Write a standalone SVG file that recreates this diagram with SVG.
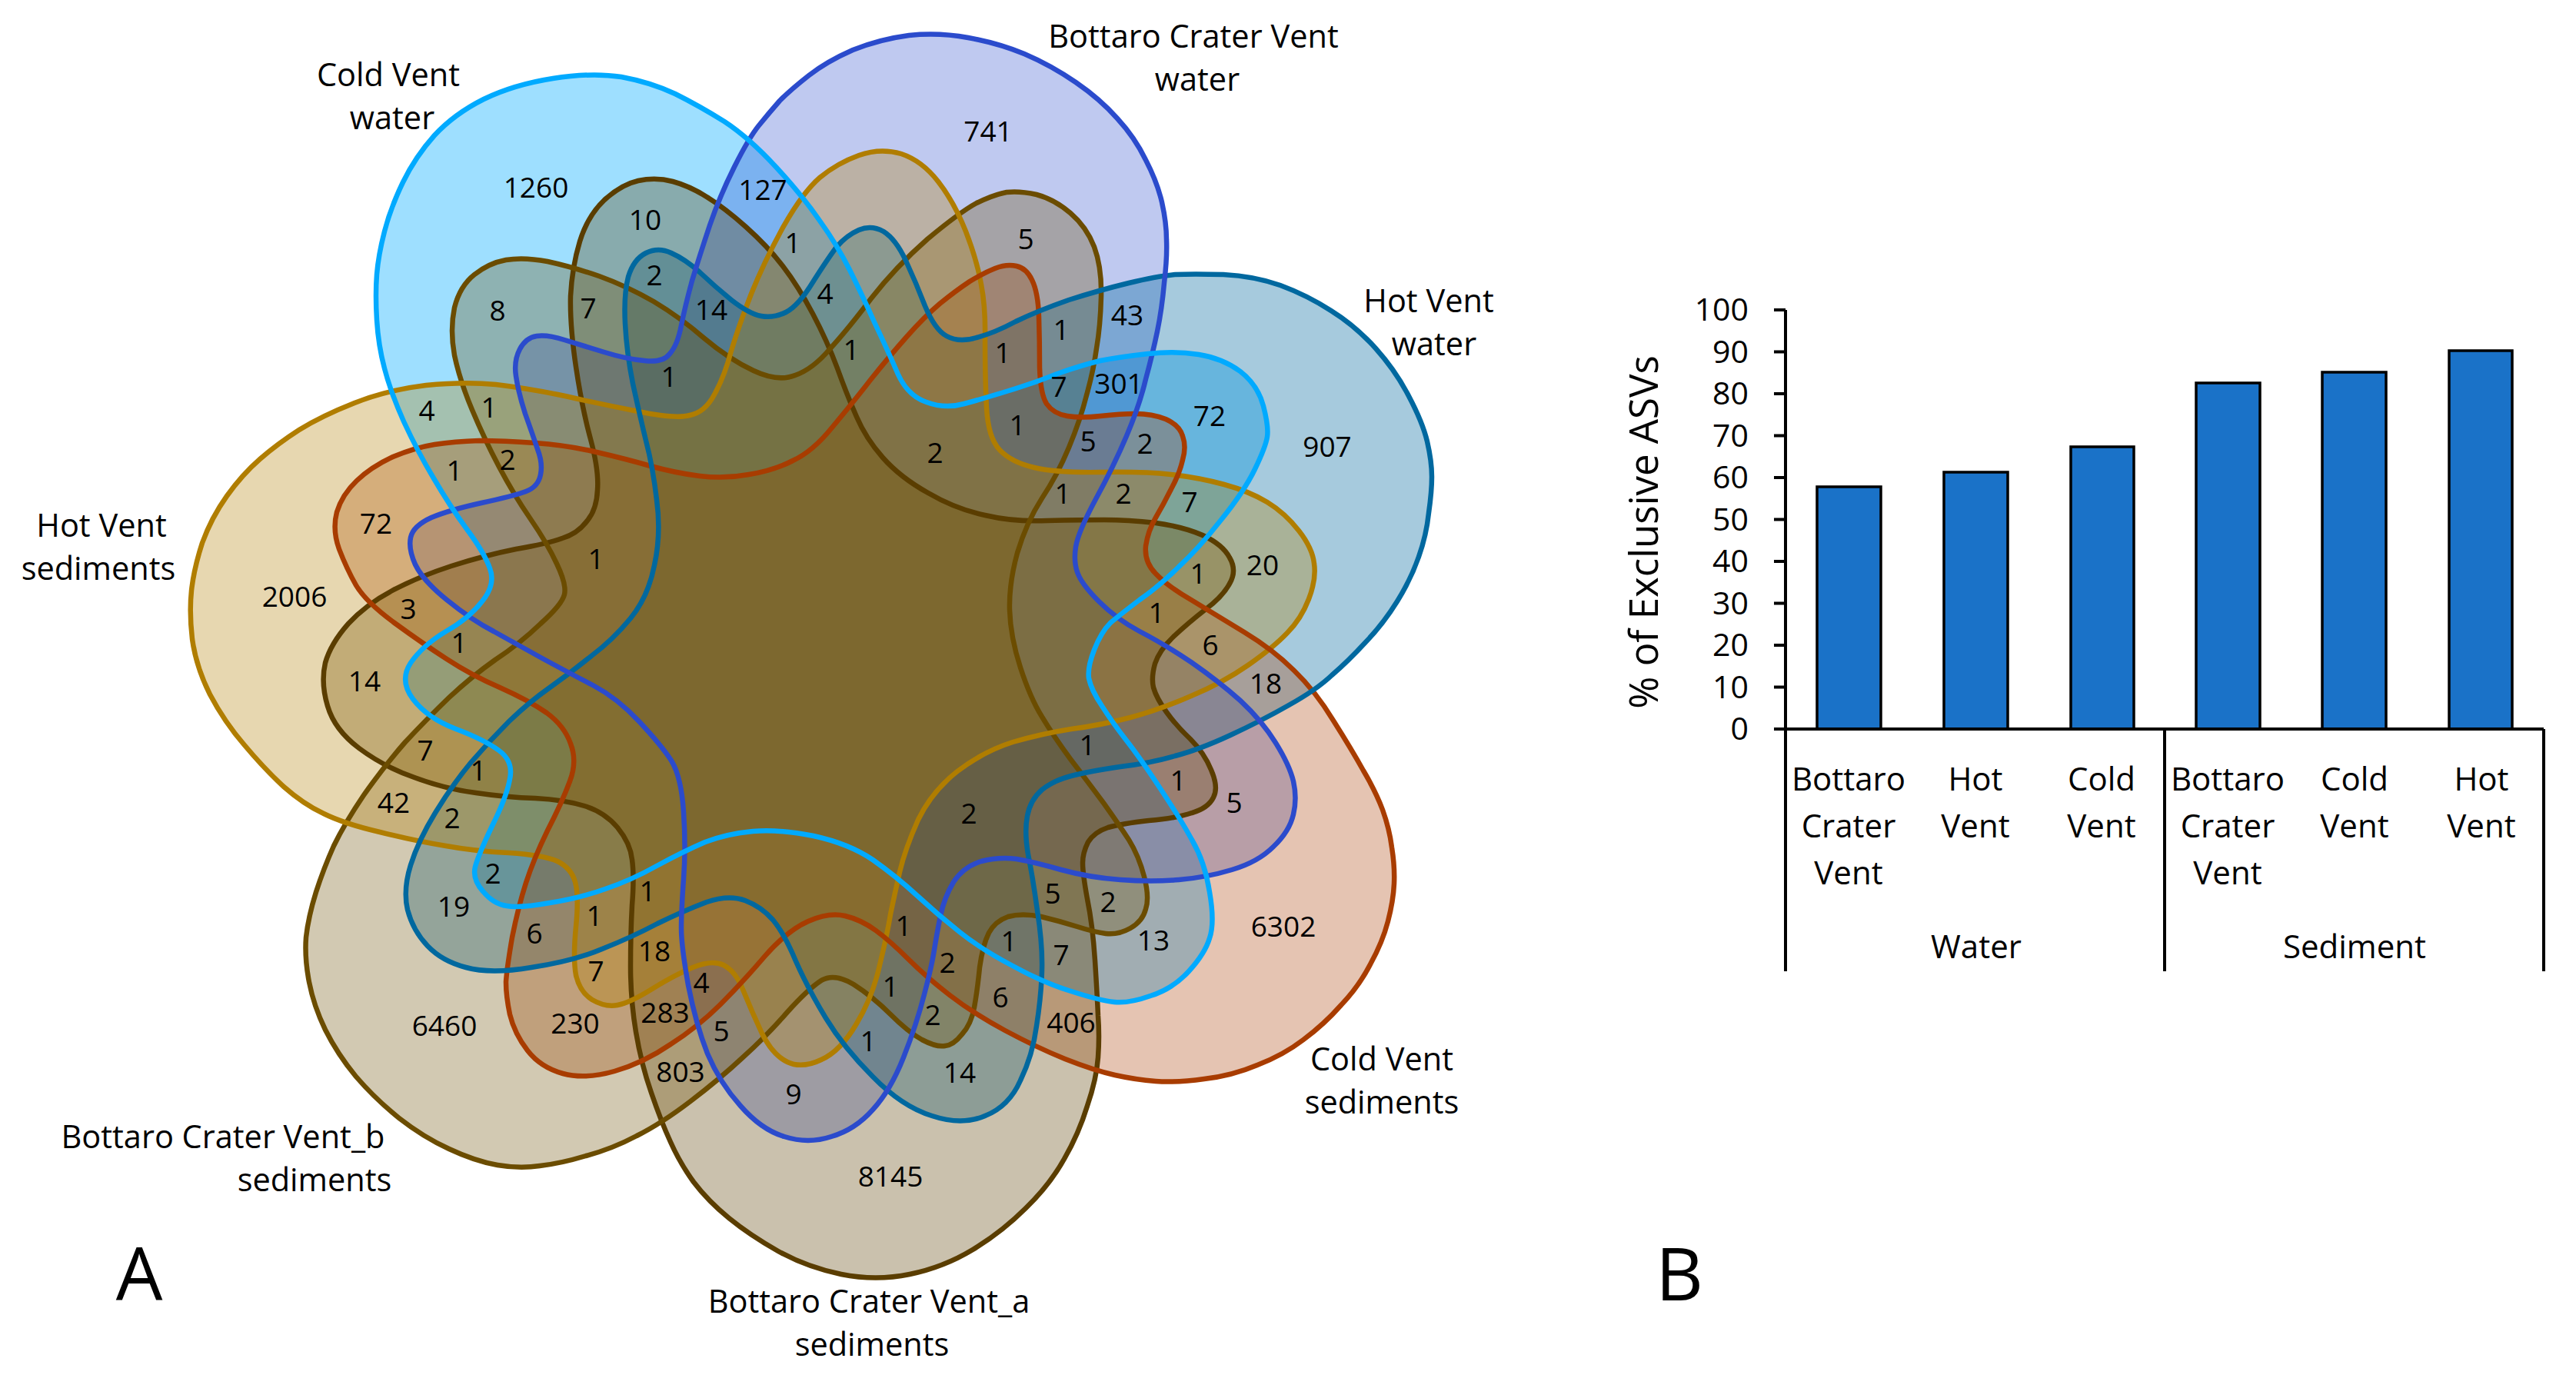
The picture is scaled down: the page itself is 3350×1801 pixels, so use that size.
<svg xmlns="http://www.w3.org/2000/svg" width="3350" height="1801" viewBox="0 0 3350 1801">
<style>
text{font-family:"Open Sans","Noto Sans","Liberation Sans",sans-serif;fill:#000}
.line{stroke-width:6.5;fill:none;stroke-linejoin:round}
.lab{font-size:41.500px;text-anchor:middle}
.n{font-size:37px;text-anchor:middle}
.tick{font-size:41px;text-anchor:end}
.cat{font-size:42px;text-anchor:middle}
.bar{fill:#1a72c8;stroke:#000;stroke-width:3.5}
.ax{stroke:#000;stroke-width:4;fill:none}
.pan{font-size:96px;text-anchor:middle}
</style>
<defs>
<path id="p1" d="M719 102Q770 94 808 100Q846 107 878 122Q910 138 942 158Q974 179 1009 217Q1044 255 1066 287Q1089 319 1105 351Q1121 383 1138 421Q1156 459 1168 487Q1181 515 1205 523Q1229 532 1254 525Q1280 518 1312 508Q1345 498 1375 486Q1406 475 1431 469Q1457 464 1493 460Q1529 456 1559 461Q1590 466 1613 483Q1636 501 1643 528Q1650 555 1648 568Q1646 581 1632 610Q1618 639 1588 676Q1559 713 1533 737Q1508 762 1482 780Q1457 799 1444 810Q1432 822 1423 845Q1414 868 1416 882Q1419 897 1433 918Q1447 940 1465 963Q1483 986 1508 1024Q1534 1063 1550 1092Q1567 1121 1573 1160Q1580 1200 1573 1220Q1567 1240 1546 1263Q1525 1286 1496 1295Q1468 1305 1449 1303Q1430 1301 1393 1289Q1357 1278 1317 1256Q1277 1235 1248 1212Q1219 1189 1192 1164Q1166 1140 1135 1118Q1104 1097 1058 1087Q1013 1078 979 1081Q946 1084 917 1095Q889 1107 854 1126Q820 1145 787 1156Q754 1168 715 1174Q676 1181 659 1178Q642 1176 628 1159Q614 1143 618 1127Q622 1112 640 1074Q659 1036 663 1013Q668 990 649 976Q630 962 593 948Q556 934 537 909Q519 885 534 862Q550 839 580 821Q610 804 627 782Q645 760 637 739Q630 719 607 688Q585 658 564 622Q543 587 525 548Q508 510 500 479Q492 449 490 416Q488 383 490 357Q492 332 500 301Q508 270 524 237Q540 204 565 176Q591 148 629 129Q668 110 719 102Z"/>
<path id="p2" d="M1182 46Q1221 42 1259 49Q1298 56 1332 70Q1367 85 1399 107Q1431 129 1453 154Q1476 179 1490 208Q1505 237 1511 263Q1517 290 1517 312Q1518 335 1514 368Q1511 402 1505 431Q1499 460 1490 493Q1482 527 1465 567Q1448 607 1425 649Q1402 692 1399 711Q1396 730 1401 744Q1406 759 1429 782Q1452 805 1482 821Q1513 837 1549 861Q1585 886 1613 911Q1641 937 1659 966Q1677 995 1682 1016Q1687 1038 1682 1059Q1677 1081 1656 1101Q1636 1121 1602 1131Q1569 1141 1533 1144Q1498 1147 1457 1144Q1416 1141 1380 1131Q1345 1121 1322 1117Q1299 1114 1276 1120Q1253 1127 1240 1147Q1228 1167 1223 1191Q1218 1216 1215 1235Q1212 1255 1202 1293Q1192 1332 1175 1375Q1158 1418 1135 1443Q1112 1469 1081 1478Q1051 1488 1020 1478Q990 1469 963 1438Q936 1408 920 1370Q905 1332 895 1281Q886 1230 886 1207Q886 1184 889 1143Q892 1102 889 1056Q886 1010 873 989Q860 969 831 938Q803 908 771 891Q740 875 705 856Q671 837 642 821Q613 806 581 780Q550 755 540 734Q531 714 534 699Q537 684 561 673Q585 663 626 654Q668 645 684 639Q700 633 703 617Q706 602 699 584Q693 566 683 538Q674 510 671 489Q668 469 676 454Q684 439 698 437Q712 435 734 442Q757 449 786 458Q815 467 838 469Q862 472 871 460Q881 449 886 423Q891 398 900 365Q910 332 923 293Q936 255 955 217Q974 179 987 163Q1000 147 1014 131Q1029 116 1052 98Q1075 80 1109 65Q1144 51 1182 46Z"/>
<path id="p3" d="M1528 357Q1551 356 1591 357Q1631 359 1665 371Q1700 384 1731 404Q1763 424 1789 453Q1815 482 1832 515Q1850 549 1856 574Q1862 600 1862 620Q1862 639 1858 667Q1855 696 1845 724Q1835 753 1817 782Q1799 811 1776 835Q1753 860 1732 878Q1712 897 1676 917Q1641 937 1600 956Q1559 975 1528 983Q1498 992 1457 997Q1416 1003 1393 1009Q1370 1015 1355 1027Q1340 1040 1336 1061Q1332 1082 1337 1111Q1343 1140 1349 1184Q1356 1229 1355 1262Q1354 1296 1348 1334Q1343 1372 1327 1405Q1312 1439 1281 1451Q1251 1464 1212 1451Q1173 1439 1135 1400Q1097 1362 1074 1324Q1051 1286 1035 1250Q1020 1214 1005 1196Q990 1179 969 1171Q948 1163 919 1173Q890 1184 855 1201Q821 1219 783 1234Q745 1250 691 1258Q638 1267 606 1258Q575 1250 556 1230Q537 1210 530 1183Q524 1157 534 1125Q544 1093 566 1057Q588 1021 612 992Q636 964 662 938Q688 913 715 894Q742 875 769 853Q797 832 820 804Q843 776 851 735Q860 694 854 650Q849 607 840 573Q832 540 823 499Q815 459 813 421Q811 383 817 360Q824 337 840 329Q856 321 873 329Q891 337 910 354Q929 372 951 390Q974 408 990 411Q1006 414 1022 406Q1038 398 1057 367Q1076 337 1088 321Q1101 306 1117 299Q1133 292 1149 301Q1165 311 1178 339Q1191 367 1203 398Q1216 429 1231 437Q1247 446 1270 439Q1293 433 1321 418Q1350 404 1390 390Q1431 377 1468 368Q1505 359 1528 357Z"/>
<path id="p4" d="M1810 1102Q1807 1078 1798 1053Q1789 1029 1773 1002Q1758 975 1734 937Q1711 899 1683 872Q1656 845 1618 822Q1580 799 1549 780Q1518 762 1503 746Q1488 731 1490 710Q1493 690 1503 673Q1513 656 1523 636Q1534 616 1538 598Q1543 581 1538 567Q1534 553 1516 545Q1498 538 1477 538Q1457 538 1431 541Q1406 544 1388 541Q1370 538 1361 525Q1353 512 1352 478Q1352 444 1351 412Q1350 380 1342 364Q1335 349 1322 346Q1309 343 1294 349Q1279 355 1261 366Q1243 378 1222 395Q1202 412 1179 438Q1156 464 1132 494Q1108 525 1082 556Q1057 587 1031 599Q1006 612 974 617Q942 623 910 619Q878 615 846 606Q815 597 776 588Q738 579 696 576Q655 573 623 573Q591 574 565 578Q540 582 511 594Q483 607 464 625Q445 643 438 666Q432 689 441 714Q451 740 463 761Q476 783 513 810Q550 837 581 857Q613 878 650 894Q688 911 711 927Q734 944 742 967Q751 990 741 1016Q731 1043 712 1080Q694 1117 684 1148Q674 1179 666 1219Q659 1260 658 1277Q658 1295 663 1319Q669 1344 686 1366Q703 1388 732 1396Q761 1404 799 1393Q837 1382 872 1358Q908 1335 937 1306Q966 1277 995 1243Q1024 1210 1051 1198Q1078 1186 1099 1191Q1120 1196 1139 1210Q1158 1224 1181 1247Q1204 1270 1235 1294Q1266 1318 1307 1340Q1348 1362 1385 1377Q1423 1392 1450 1398Q1477 1404 1503 1406Q1530 1408 1566 1403Q1602 1399 1635 1385Q1669 1372 1695 1352Q1722 1332 1744 1307Q1767 1283 1782 1254Q1798 1225 1805 1198Q1812 1171 1813 1149Q1814 1127 1810 1102Z"/>
<path id="p5" d="M1094 1657Q1139 1666 1183 1657Q1227 1648 1265 1625Q1303 1602 1334 1571Q1365 1541 1384 1507Q1403 1474 1414 1438Q1426 1403 1428 1375Q1430 1347 1428 1321Q1427 1296 1424 1249Q1421 1203 1414 1169Q1408 1136 1408 1122Q1408 1109 1415 1095Q1423 1082 1441 1076Q1459 1071 1494 1067Q1530 1064 1550 1057Q1571 1051 1578 1037Q1585 1024 1575 1001Q1566 979 1548 961Q1530 944 1517 926Q1504 908 1500 894Q1497 881 1502 863Q1508 845 1526 828Q1544 811 1567 793Q1590 776 1599 759Q1609 742 1599 725Q1590 708 1564 696Q1539 685 1503 680Q1467 676 1436 676Q1406 676 1362 677Q1319 679 1281 670Q1243 662 1207 641Q1171 621 1148 595Q1126 570 1114 542Q1102 515 1089 479Q1076 444 1057 408Q1038 372 1018 346Q999 321 970 295Q942 270 919 256Q897 242 875 236Q853 230 830 235Q808 240 786 260Q764 281 754 314Q744 347 742 385Q741 423 749 477Q757 531 768 571Q779 612 777 637Q776 663 763 678Q751 694 731 700Q712 707 671 714Q631 722 587 736Q544 750 510 768Q476 786 453 811Q430 837 423 862Q417 888 426 918Q435 949 467 973Q499 997 539 1011Q579 1026 619 1031Q659 1037 696 1038Q734 1040 760 1048Q786 1056 803 1076Q820 1097 822 1118Q825 1140 822 1177Q820 1214 820 1257Q820 1300 827 1342Q834 1384 847 1421Q860 1459 872 1485Q884 1512 902 1537Q921 1562 948 1584Q975 1606 1012 1627Q1050 1648 1094 1657Z"/>
<path id="p6" d="M702 1516Q676 1520 647 1515Q618 1510 584 1494Q551 1479 519 1454Q488 1429 463 1400Q439 1371 423 1339Q408 1308 402 1277Q396 1246 398 1219Q401 1192 411 1160Q421 1129 434 1100Q448 1071 473 1034Q499 997 527 965Q556 934 584 907Q613 880 644 858Q676 837 703 811Q731 786 734 773Q737 760 724 733Q712 707 690 675Q668 643 649 607Q630 571 614 533Q598 495 591 462Q585 429 591 400Q598 372 617 357Q636 342 658 338Q681 334 712 340Q744 347 779 359Q815 372 850 392Q885 413 916 440Q948 467 980 482Q1012 497 1034 488Q1057 480 1079 454Q1102 429 1133 388Q1165 347 1206 311Q1248 276 1270 264Q1293 253 1309 250Q1326 248 1348 253Q1371 259 1392 277Q1413 295 1423 321Q1433 348 1432 386Q1431 424 1426 453Q1422 482 1413 514Q1405 546 1390 582Q1375 618 1355 648Q1335 679 1323 719Q1312 759 1313 793Q1314 828 1327 868Q1340 908 1355 932Q1370 957 1392 987Q1415 1017 1435 1044Q1455 1072 1468 1092Q1481 1113 1488 1140Q1495 1167 1490 1182Q1486 1198 1470 1207Q1454 1216 1438 1214Q1423 1212 1401 1205Q1379 1198 1354 1192Q1329 1187 1311 1192Q1294 1198 1286 1213Q1278 1229 1274 1258Q1271 1288 1267 1310Q1263 1332 1251 1345Q1240 1359 1229 1360Q1218 1362 1199 1352Q1181 1342 1158 1319Q1135 1296 1110 1280Q1085 1265 1068 1275Q1051 1286 1024 1316Q997 1347 966 1375Q936 1403 898 1432Q860 1461 828 1477Q796 1494 762 1503Q729 1513 702 1516Z"/>
<path id="p7" d="M249 768Q252 740 263 706Q275 673 295 645Q315 617 338 597Q361 577 389 559Q418 541 461 524Q504 507 554 501Q604 496 645 500Q687 505 735 515Q783 526 830 535Q878 545 897 540Q917 536 929 513Q942 490 951 456Q961 423 977 382Q993 342 1018 296Q1044 250 1066 231Q1089 212 1117 202Q1145 192 1172 200Q1199 209 1220 236Q1241 263 1256 301Q1271 340 1276 370Q1282 400 1281 445Q1281 491 1283 530Q1285 569 1300 585Q1315 601 1345 608Q1375 615 1431 614Q1488 613 1523 617Q1559 621 1592 630Q1625 639 1648 653Q1671 667 1689 690Q1707 713 1709 733Q1712 753 1702 779Q1692 805 1674 823Q1656 842 1623 865Q1590 888 1549 905Q1508 923 1470 933Q1432 943 1393 948Q1355 954 1317 965Q1279 977 1245 1003Q1212 1029 1194 1066Q1177 1104 1170 1134Q1163 1165 1158 1189Q1154 1214 1144 1255Q1135 1296 1114 1331Q1093 1367 1068 1378Q1043 1390 1024 1381Q1005 1372 991 1344Q978 1316 967 1289Q957 1263 941 1255Q926 1248 901 1258Q877 1268 848 1286Q819 1304 803 1307Q787 1310 770 1300Q754 1290 749 1268Q745 1246 749 1205Q753 1165 748 1147Q743 1129 725 1120Q707 1112 662 1109Q618 1107 580 1100Q542 1094 494 1082Q447 1071 421 1058Q395 1046 369 1023Q344 1000 318 969Q292 939 273 903Q255 867 250 831Q246 796 249 768Z"/>
</defs>
<rect width="3350" height="1801" fill="#fff"/>
<g id="cold-vent-water"><use href="#p1" fill="#00aaff" fill-opacity=".38"/><text class="lab" x="505" y="112">Cold Vent</text><text class="lab" x="510" y="168">water</text></g>
<g id="bottaro-water"><use href="#p2" fill="#2b4bcc" fill-opacity=".3"/><text class="lab" x="1552" y="62">Bottaro Crater Vent</text><text class="lab" x="1557" y="118">water</text></g>
<g id="hot-vent-water"><use href="#p3" fill="#00689f" fill-opacity=".35"/><text class="lab" x="1858" y="406">Hot Vent</text><text class="lab" x="1865" y="462">water</text></g>
<g id="cold-vent-sediments"><use href="#p4" fill="#a83c00" fill-opacity=".3"/><text class="lab" x="1797" y="1392">Cold Vent</text><text class="lab" x="1797" y="1448">sediments</text></g>
<g id="bottaro-a-sediments"><use href="#p5" fill="#5a3d00" fill-opacity=".32"/><text class="lab" x="1130" y="1707">Bottaro Crater Vent_a</text><text class="lab" x="1134" y="1763">sediments</text></g>
<g id="bottaro-b-sediments"><use href="#p6" fill="#6b4c00" fill-opacity=".3"/><text class="lab" x="290" y="1493">Bottaro Crater Vent_b</text><text class="lab" x="409" y="1549">sediments</text></g>
<g id="hot-vent-sediments"><use href="#p7" fill="#b07d00" fill-opacity=".31"/><text class="lab" x="132" y="698">Hot Vent</text><text class="lab" x="128" y="754">sediments</text></g>
<g id="venn-outlines">
<use href="#p5" class="line" stroke="#5a3d00"/><use href="#p6" class="line" stroke="#6b4c00"/><use href="#p7" class="line" stroke="#b07d00"/><use href="#p4" class="line" stroke="#a83c00"/><use href="#p3" class="line" stroke="#00689f"/><use href="#p2" class="line" stroke="#2b4bcc"/><use href="#p1" class="line" stroke="#00aaff"/>
</g>
<g id="venn-counts">
<text class="n" x="697" y="257">1260</text><text class="n" x="839" y="299">10</text><text class="n" x="992" y="260">127</text><text class="n" x="1285" y="184">741</text><text class="n" x="1031" y="329">1</text><text class="n" x="851" y="371">2</text><text class="n" x="647" y="417">8</text><text class="n" x="765" y="414">7</text><text class="n" x="925" y="416">14</text><text class="n" x="1073" y="395">4</text><text class="n" x="1107" y="468">1</text><text class="n" x="870" y="503">1</text><text class="n" x="555" y="547">4</text><text class="n" x="636" y="543">1</text><text class="n" x="660" y="611">2</text><text class="n" x="591" y="625">1</text><text class="n" x="489" y="694">72</text><text class="n" x="775" y="740">1</text><text class="n" x="1216" y="602">2</text><text class="n" x="1334" y="324">5</text><text class="n" x="1380" y="442">1</text><text class="n" x="1304" y="472">1</text><text class="n" x="1377" y="516">7</text><text class="n" x="1323" y="566">1</text>
<text class="n" x="1466" y="423">43</text><text class="n" x="1455" y="512">301</text><text class="n" x="1573" y="554">72</text><text class="n" x="1726" y="594">907</text><text class="n" x="1415" y="587">5</text><text class="n" x="1489" y="590">2</text><text class="n" x="1382" y="655">1</text><text class="n" x="1461" y="655">2</text><text class="n" x="1547" y="666">7</text><text class="n" x="1642" y="748">20</text><text class="n" x="1558" y="759">1</text><text class="n" x="1504" y="810">1</text><text class="n" x="1574" y="852">6</text><text class="n" x="1646" y="902">18</text><text class="n" x="1414" y="982">1</text><text class="n" x="1532" y="1028">1</text><text class="n" x="1605" y="1057">5</text><text class="n" x="1260" y="1071">2</text><text class="n" x="1369" y="1175">5</text><text class="n" x="1441" y="1186">2</text>
<text class="n" x="1669" y="1218">6302</text><text class="n" x="1500" y="1236">13</text><text class="n" x="1380" y="1255">7</text><text class="n" x="1312" y="1237">1</text><text class="n" x="1301" y="1310">6</text><text class="n" x="1232" y="1265">2</text><text class="n" x="1213" y="1333">2</text><text class="n" x="1393" y="1343">406</text><text class="n" x="1248" y="1408">14</text><text class="n" x="1175" y="1217">1</text><text class="n" x="1158" y="1296">1</text><text class="n" x="1129" y="1367">1</text><text class="n" x="1032" y="1436">9</text><text class="n" x="1158" y="1543">8145</text>
<text class="n" x="512" y="1057">42</text><text class="n" x="588" y="1077">2</text><text class="n" x="641" y="1149">2</text><text class="n" x="590" y="1192">19</text><text class="n" x="695" y="1227">6</text><text class="n" x="773" y="1204">1</text><text class="n" x="842" y="1172">1</text><text class="n" x="775" y="1276">7</text><text class="n" x="851" y="1250">18</text><text class="n" x="912" y="1291">4</text><text class="n" x="865" y="1330">283</text><text class="n" x="938" y="1354">5</text><text class="n" x="748" y="1344">230</text><text class="n" x="885" y="1407">803</text><text class="n" x="578" y="1347">6460</text>
<text class="n" x="383" y="789">2006</text><text class="n" x="531" y="805">3</text><text class="n" x="597" y="849">1</text><text class="n" x="474" y="899">14</text><text class="n" x="553" y="989">7</text><text class="n" x="622" y="1015">1</text>
</g>
<text class="pan" x="181" y="1691">A</text>
<text class="pan" x="2184" y="1691">B</text>
<g id="bar-chart">
<rect class="bar" x="2363" y="633" width="83" height="315"/><rect class="bar" x="2528" y="614" width="83" height="334"/><rect class="bar" x="2693" y="581" width="82" height="367"/><rect class="bar" x="2856" y="498" width="83" height="450"/><rect class="bar" x="3020" y="484" width="83" height="464"/><rect class="bar" x="3185" y="456" width="82" height="492"/>
<path class="ax" d="M2322 403V1263M2815 948V1263M3308 948V1263M2307 948H3308M2307 403H2322M2307 457.500H2322M2307 512H2322M2307 566.500H2322M2307 621H2322M2307 675.500H2322M2307 730H2322M2307 784.500H2322M2307 839H2322M2307 893.500H2322"/>
<text class="tick" x="2274" y="417">100</text><text class="tick" x="2274" y="472">90</text><text class="tick" x="2274" y="526">80</text><text class="tick" x="2274" y="581">70</text><text class="tick" x="2274" y="635">60</text><text class="tick" x="2274" y="690">50</text><text class="tick" x="2274" y="744">40</text><text class="tick" x="2274" y="799">30</text><text class="tick" x="2274" y="853">20</text><text class="tick" x="2274" y="908">10</text><text class="tick" x="2274" y="962">0</text>
<text font-size="51" text-anchor="middle" transform="translate(2156 692) rotate(-90)">% of Exclusive ASVs</text>
<text class="cat" x="2404" y="1028">Bottaro</text><text class="cat" x="2404" y="1089">Crater</text><text class="cat" x="2404" y="1150">Vent</text><text class="cat" x="2569" y="1028">Hot</text><text class="cat" x="2569" y="1089">Vent</text><text class="cat" x="2733" y="1028">Cold</text><text class="cat" x="2733" y="1089">Vent</text><text class="cat" x="2897" y="1028">Bottaro</text><text class="cat" x="2897" y="1089">Crater</text><text class="cat" x="2897" y="1150">Vent</text><text class="cat" x="3062" y="1028">Cold</text><text class="cat" x="3062" y="1089">Vent</text><text class="cat" x="3227" y="1028">Hot</text><text class="cat" x="3227" y="1089">Vent</text>
<text class="cat" x="2570" y="1246">Water</text><text class="cat" x="3062" y="1246">Sediment</text>
</g>
</svg>
